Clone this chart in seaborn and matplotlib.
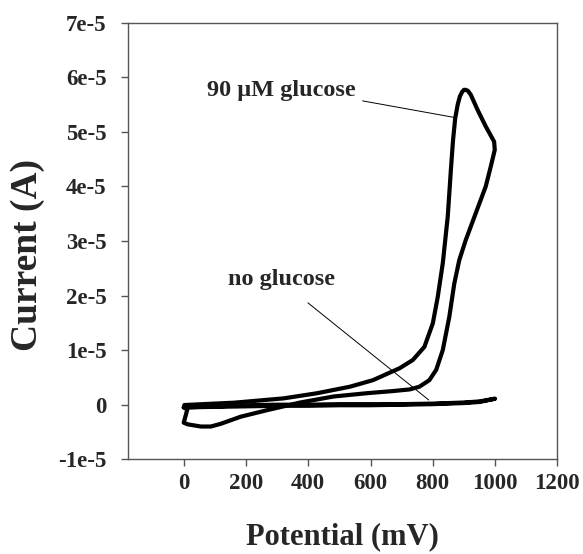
import numpy as np
import pandas as pd
import matplotlib
matplotlib.use("Agg")
import matplotlib.pyplot as plt
import seaborn as sns

# Potential (mV) and current (units of 1e-5 A)
glucose_potential = [2, 162, 321, 428, 534, 608, 694, 736, 773, 800, 816, 832, 848, 858, 865, 872, 880, 887, 894, 900, 906, 913, 922, 944, 970, 997,
                     999, 986, 970, 938, 906, 885, 869, 853, 832, 811, 789, 757, 726, 672, 587, 481, 374, 268, 183, 119, 87, 55, 13, 0, 11, 2]
glucose_current = [-0.006, 0.037, 0.116, 0.21, 0.33, 0.45, 0.67, 0.82, 1.06, 1.49, 1.98, 2.59, 3.45, 4.30, 4.85, 5.25, 5.50, 5.65, 5.73, 5.77, 5.77, 5.75, 5.68, 5.40, 5.10, 4.82,
                   4.67, 4.36, 4.00, 3.51, 3.02, 2.65, 2.22, 1.61, 1.00, 0.64, 0.45, 0.33, 0.28, 0.25, 0.21, 0.15, 0.04, -0.10, -0.22, -0.35, -0.40, -0.40, -0.36, -0.33, -0.10, -0.04]

blank_potential = [0, 100, 200, 300, 400, 500, 600, 700, 800, 900, 950, 1000,
                   1000, 950, 900, 800, 700, 600, 500, 400, 300, 200, 100, 0]
blank_current = [-0.05, -0.03, -0.01, 0.0, 0.0, 0.01, 0.01, 0.01, 0.02, 0.04, 0.06, 0.11,
                 0.11, 0.05, 0.03, 0.01, 0.0, -0.01, -0.01, -0.02, -0.02, -0.03, -0.04, -0.05]

x_ticks = [0, 200, 400, 600, 800, 1000, 1200]
y_ticks = [-1e-5, 0, 1e-5, 2e-5, 3e-5, 4e-5, 5e-5, 6e-5, 7e-5]
y_tick_labels = ["-1e-5", "0", "1e-5", "2e-5", "3e-5", "4e-5", "5e-5", "6e-5", "7e-5"]

sns.set_style("white")
plt.rcParams['font.family'] = ['Liberation Serif', 'DejaVu Serif']
plt.rcParams['font.weight'] = 'bold'

df_g = pd.DataFrame({"E": glucose_potential, "I": np.array(glucose_current) * 1e-5})
df_b = pd.DataFrame({"E": blank_potential, "I": np.array(blank_current) * 1e-5})

fig = plt.figure(figsize=(5.83, 5.54), dpi=100)
ax = fig.add_axes([0.219, 0.171, 0.737, 0.788])

sns.lineplot(data=df_b, x="E", y="I", sort=False, estimator=None, color="black", linewidth=3, ax=ax)
sns.lineplot(data=df_g, x="E", y="I", sort=False, estimator=None, color="black", linewidth=3, ax=ax)

ax.set_xlim(-180, 1200)
ax.set_ylim(-1e-5, 7e-5)
ax.set_xticks(x_ticks)
ax.set_xticklabels([str(t) for t in x_ticks])
ax.set_yticks(y_ticks)
ax.set_yticklabels(y_tick_labels)

for s in ax.spines.values():
    s.set_color("#555555")
    s.set_linewidth(1.0)
    s.set_visible(True)
ax.tick_params(axis="both", which="both", direction="out", length=5, width=1, color="#555555",
               labelsize=16.5, bottom=True, left=True, top=False, right=False)
ax.tick_params(axis="x", pad=5)
ax.tick_params(axis="y", pad=10)
for lab in ax.get_xticklabels() + ax.get_yticklabels():
    lab.set_fontweight("bold")

ax.set_xlabel("Potential (mV)", fontsize=22, fontweight="bold")
ax.set_ylabel("Current (A)", fontsize=27, fontweight="bold")
ax.xaxis.set_label_coords(0.5, -0.178)
ax.yaxis.set_label_coords(-0.234, 0.468)
ax.xaxis.label.set_va("center")
ax.yaxis.label.set_va("center")

ax.annotate("90 \u03bcM glucose", xy=(873, 5.26e-5), xytext=(312, 5.76e-5),
            ha="center", va="center", fontsize=17.5, fontweight="bold",
            arrowprops=dict(arrowstyle="-", color="black", lw=0.7, shrinkA=0, shrinkB=0,
                            relpos=(1.05, 0.0)))
ax.annotate("no glucose", xy=(787, 0.086e-5), xytext=(313, 2.29e-5),
            ha="center", va="center", fontsize=17.5, fontweight="bold",
            arrowprops=dict(arrowstyle="-", color="black", lw=0.7, shrinkA=0, shrinkB=0,
                            relpos=(0.75, -0.6)))

fig.savefig("out.png", dpi=100)
